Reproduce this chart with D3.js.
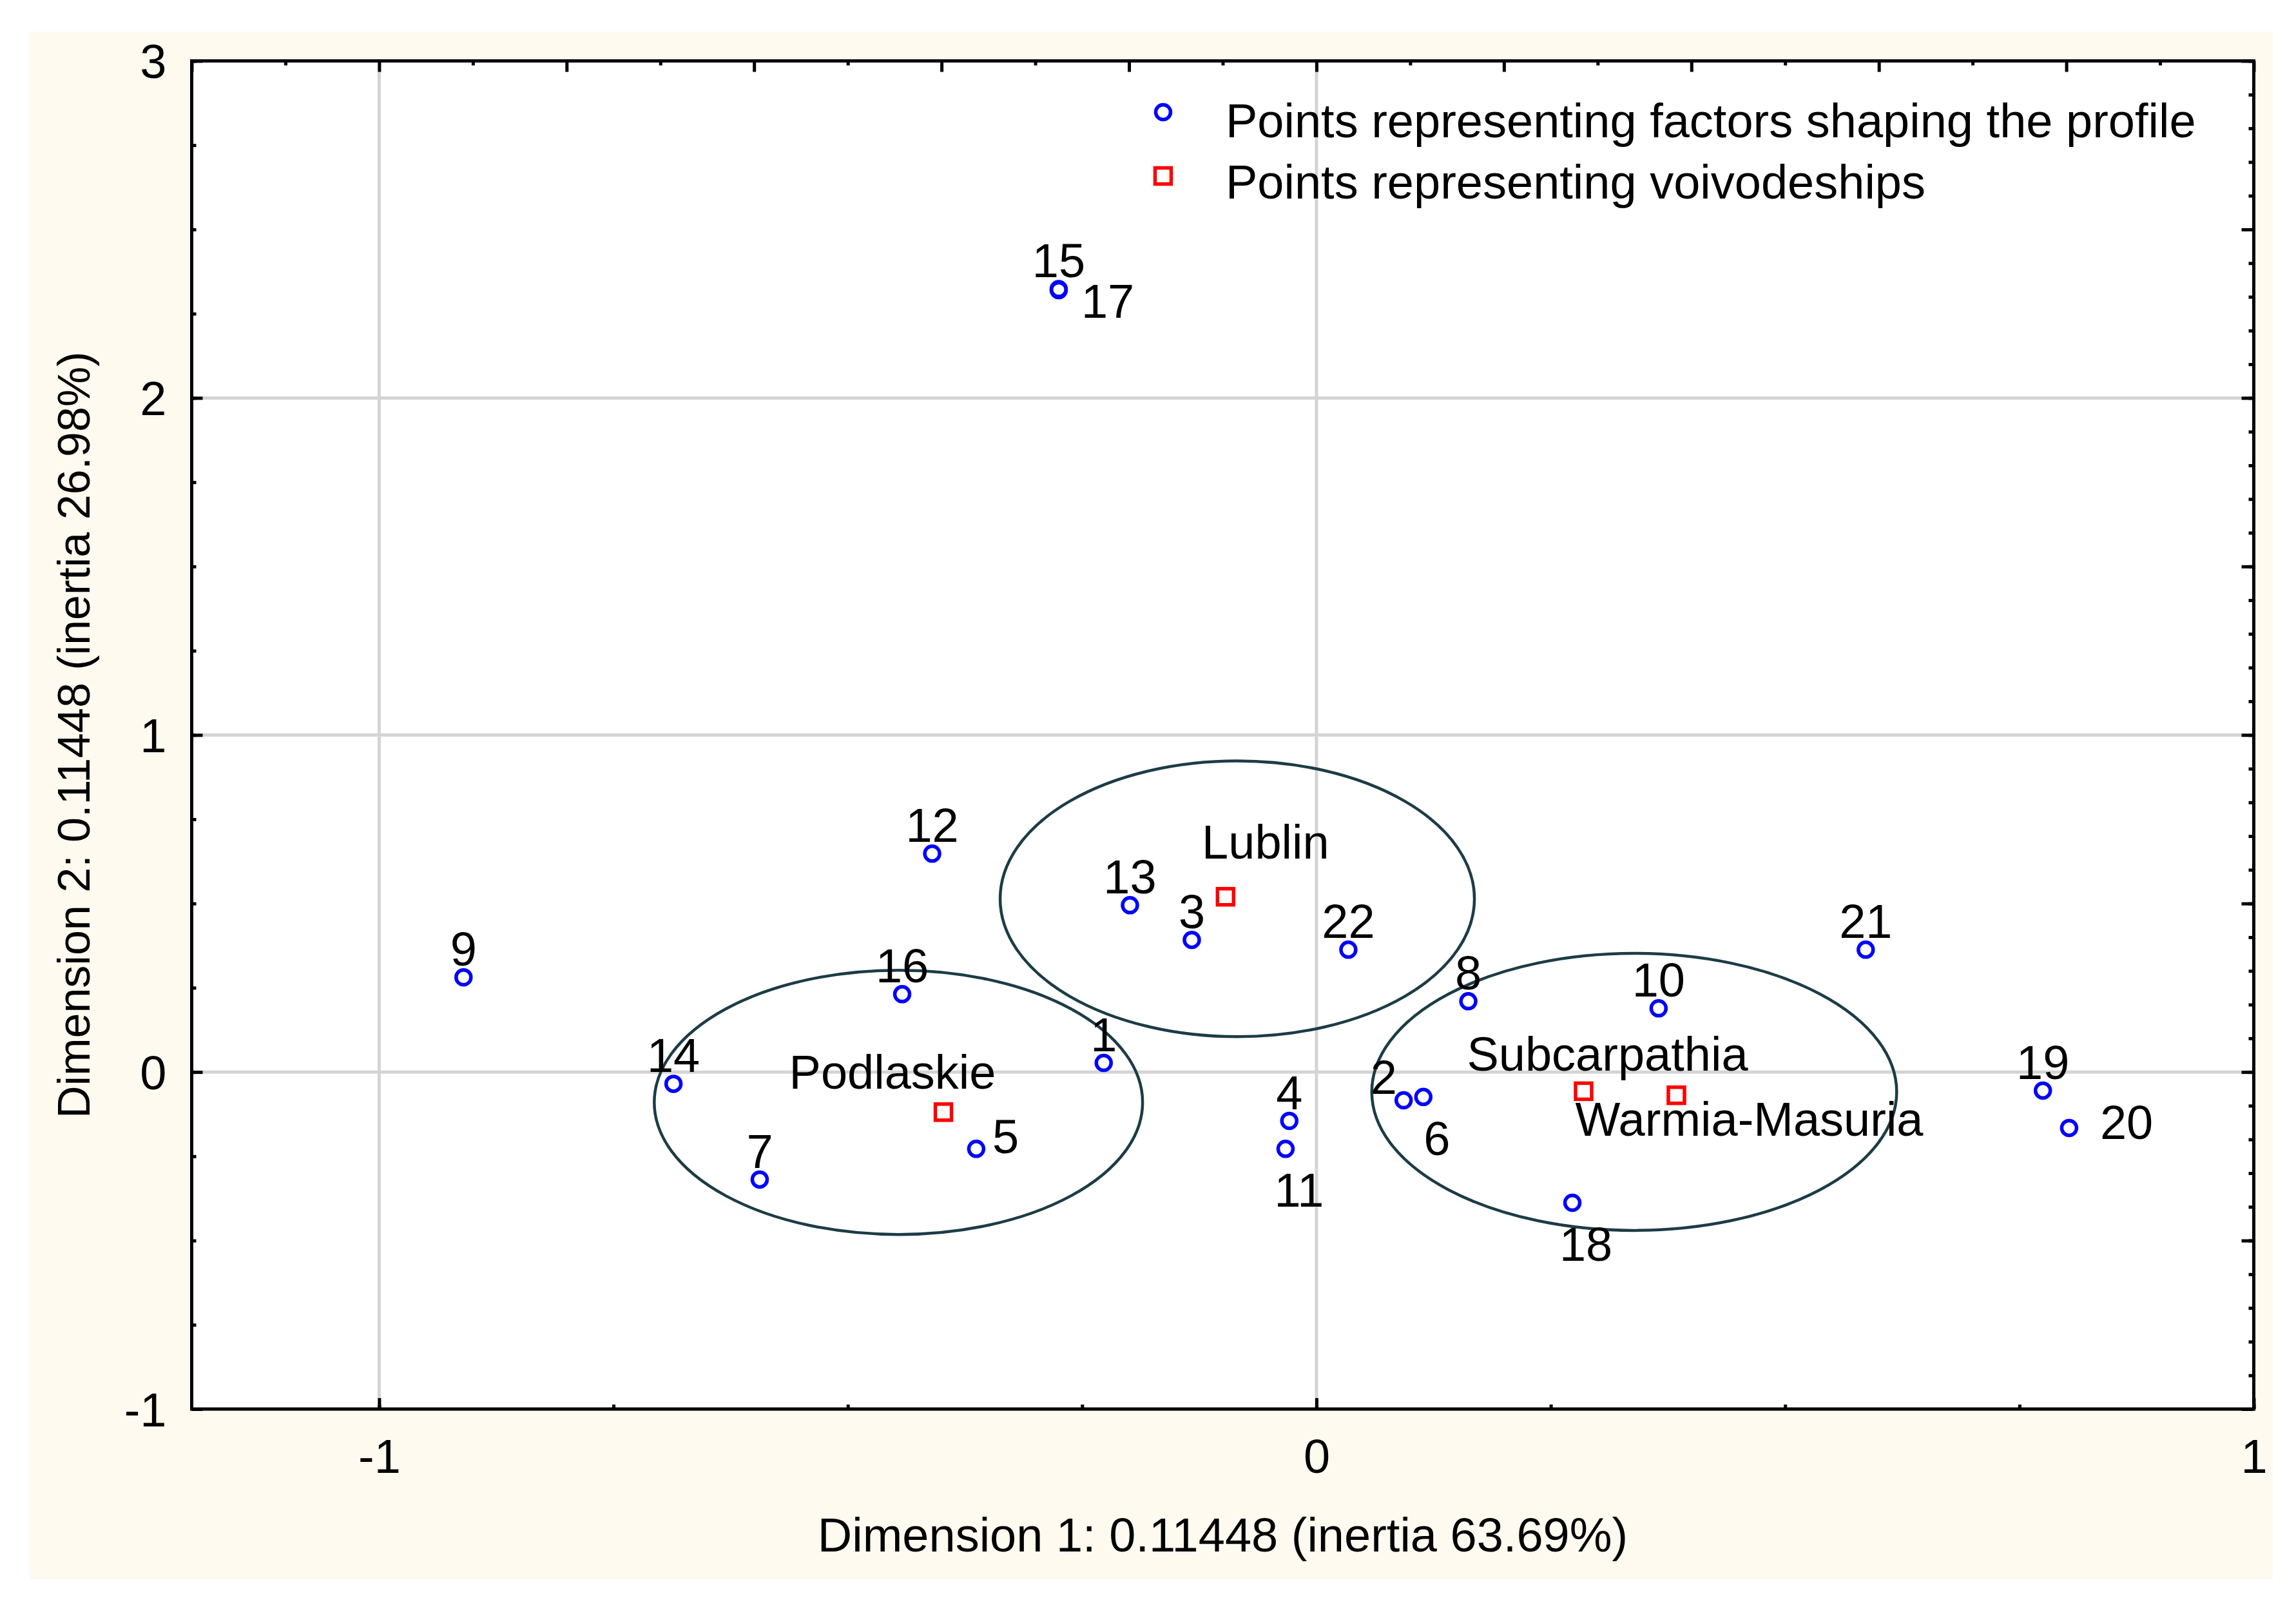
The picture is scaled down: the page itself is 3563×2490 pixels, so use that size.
<!DOCTYPE html>
<html><head><meta charset="utf-8">
<script src="https://cdn.jsdelivr.net/npm/d3@7"></script>
<style>html,body{margin:0;padding:0;background:#fff;} svg{display:block;}</style>
</head><body>
<svg id="chart" width="3563" height="2490"></svg>
<script>
// ---------------- DATA ----------------
const xDomain = [-1.2, 1];
const yDomain = [-1, 3];
const xTickLabels = [-1, 0, 1];
const yTickLabels = [-1, 0, 1, 2, 3];
const xTitle = "Dimension 1: 0.11448 (inertia 63.69%)";
const yTitle = "Dimension 2: 0.11448 (inertia 26.98%)";
const legendLabels = ["Points representing factors shaping the profile", "Points representing voivodeships"];

// factor points (blue circles)
const factorIds  = ["1","2","3","4","5","6","7","8","9","10","11","12","13","14","15","16","17","18","19","20","21","22"];
const factorDim1 = [-0.227, 0.093, -0.133, -0.029, -0.363, 0.114, -0.594, 0.162, -0.910, 0.365, -0.033, -0.410, -0.199, -0.686, -0.275, -0.442, -0.275, 0.273, 0.775, 0.803, 0.586, 0.034];
const factorDim2 = [0.027, -0.084, 0.392, -0.145, -0.228, -0.074, -0.319, 0.210, 0.281, 0.189, -0.228, 0.648, 0.495, -0.035, 2.323, 0.231, 2.320, -0.388, -0.055, -0.166, 0.363, 0.363];
const factorLabelSide = ["N","NW","N","N","E","S","N","N","N","N","S","N","N","N","N","N","SE","S","N","Efar","N","N"];

// voivodeship points (red squares)
const voivNames = ["Lublin", "Podlaskie", "Subcarpathia", "Warmia-Masuria"];
const voivDim1  = [-0.097, -0.398, 0.285, 0.384];
const voivDim2  = [0.520, -0.119, -0.057, -0.069];
const voivLabelSide = ["upRight", "upLeft", "up", "downRight"];

// cluster ellipses (data units)
const clusterNames = ["Lublin", "Podlaskie", "Subcarpathia / Warmia-Masuria"];
const clusterCx = [-0.0845, -0.446, 0.339];
const clusterCy = [0.514, -0.090, -0.059];
const clusterRx = [0.253, 0.2605, 0.280];
const clusterRy = [0.409, 0.392, 0.411];

// ---------------- LAYOUT / STYLE ----------------
const W = 3563, H = 2490;
const font = "'Liberation Sans', Arial, Helvetica, sans-serif";
const fs = 74;
const plot = {left: 297.5, right: 3497.5, top: 94.5, bottom: 2186};
const blue = "#0000ff", red = "#ff0000", grid = "#d4d4d4", ellipseColor = "#1c3c46";

const factorOffsets = {
  N:   {dx: 0,   dy: -18, anchor: "middle"},
  NW:  {dx: -31, dy: -10, anchor: "middle"},
  S:   {dx: 21,  dy: 90,  anchor: "middle"},
  E:   {dx: 25,  dy: 7,   anchor: "start"},
  Efar:{dx: 48,  dy: 17,  anchor: "start"},
  SE:  {dx: 35,  dy: 43,  anchor: "start"}
};
const voivOffsets = {
  upRight:   {dx: 62,  dy: -59},
  upLeft:    {dx: -79, dy: -36},
  up:        {dx: 37,  dy: -32},
  downRight: {dx: 113, dy: 63}
};

const svg = d3.select("#chart");
const x = d3.scaleLinear().domain(xDomain).range([plot.left, plot.right]);
const y = d3.scaleLinear().domain(yDomain).range([plot.bottom, plot.top]);

svg.append("rect").attr("width", W).attr("height", H).attr("fill", "#ffffff");
svg.append("rect").attr("x", 46).attr("y", 49).attr("width", 3481).attr("height", 2401).attr("fill", "#fffaf0");
svg.append("rect").attr("x", plot.left).attr("y", plot.top)
  .attr("width", plot.right - plot.left).attr("height", plot.bottom - plot.top).attr("fill", "#ffffff");

// gridlines
const gGrid = svg.append("g");
gGrid.selectAll("line.v").data(xTickLabels).join("line")
  .attr("x1", d => x(d)).attr("x2", d => x(d)).attr("y1", plot.top).attr("y2", plot.bottom)
  .attr("stroke", grid).attr("stroke-width", 5);
gGrid.selectAll("line.h").data(yTickLabels).join("line")
  .attr("x1", plot.left).attr("x2", plot.right).attr("y1", d => y(d)).attr("y2", d => y(d))
  .attr("stroke", grid).attr("stroke-width", 5);

// axes
function styleAxis(g) {
  g.select(".domain").remove();
  g.selectAll(".tick line").attr("stroke", "#000").attr("stroke-width", 5);
  g.attr("font-family", font).attr("font-size", fs);
  g.selectAll("text").attr("fill", "#000");
}
const fmt = d => String(d);
// bottom
svg.append("g").attr("transform", `translate(0,${plot.bottom})`)
  .call(d3.axisBottom(x).tickValues(d3.range(-1, 1.001, 0.25)).tickSize(-7).tickFormat("")).call(styleAxis);
svg.append("g").attr("transform", `translate(0,${plot.bottom})`)
  .call(d3.axisBottom(x).tickValues(xTickLabels).tickSize(-17).tickFormat(fmt)).call(styleAxis)
  .call(g => g.selectAll("text").attr("y", 99).attr("dy", null));
// left
svg.append("g").attr("transform", `translate(${plot.left},0)`)
  .call(d3.axisLeft(y).tickValues(d3.range(-1, 3.001, 0.25)).tickSize(-7).tickFormat("")).call(styleAxis);
svg.append("g").attr("transform", `translate(${plot.left},0)`)
  .call(d3.axisLeft(y).tickValues(yTickLabels).tickSize(-17).tickFormat(fmt)).call(styleAxis)
  .call(g => g.selectAll("text").attr("x", -39).attr("dy", null).attr("y", 26));
// top
svg.append("g").attr("transform", `translate(0,${plot.top})`)
  .call(d3.axisTop(x).tickValues(d3.range(-1.1, 1, 0.2)).tickSize(-7).tickFormat("")).call(styleAxis);
svg.append("g").attr("transform", `translate(0,${plot.top})`)
  .call(d3.axisTop(x).tickValues(d3.range(-1.2, 1.001, 0.2)).tickSize(-17).tickFormat("")).call(styleAxis);
// right
svg.append("g").attr("transform", `translate(${plot.right},0)`)
  .call(d3.axisRight(y).tickValues(d3.range(-1, 3.001, 0.1)).tickSize(-8).tickFormat("")).call(styleAxis);
svg.append("g").attr("transform", `translate(${plot.right},0)`)
  .call(d3.axisRight(y).tickValues(d3.range(-1, 3.001, 0.5)).tickSize(-19).tickFormat("")).call(styleAxis);

// frame
svg.append("rect").attr("x", plot.left).attr("y", plot.top)
  .attr("width", plot.right - plot.left).attr("height", plot.bottom - plot.top)
  .attr("fill", "none").attr("stroke", "#000").attr("stroke-width", 5);

// ellipses
svg.append("g").selectAll("ellipse").data(clusterNames).join("ellipse")
  .attr("cx", (d, i) => x(clusterCx[i])).attr("cy", (d, i) => y(clusterCy[i]))
  .attr("rx", (d, i) => x(clusterCx[i] + clusterRx[i]) - x(clusterCx[i]))
  .attr("ry", (d, i) => y(clusterCy[i]) - y(clusterCy[i] + clusterRy[i]))
  .attr("fill", "none").attr("stroke", ellipseColor).attr("stroke-width", 4.5);

// factor points
const factors = factorIds.map((id, i) => ({id, d1: factorDim1[i], d2: factorDim2[i], side: factorLabelSide[i]}));
svg.append("g").selectAll("circle").data(factors).join("circle")
  .attr("cx", d => x(d.d1)).attr("cy", d => y(d.d2)).attr("r", 11.5)
  .attr("fill", "none").attr("stroke", blue).attr("stroke-width", 5.5);

// voivodeship points
const voivs = voivNames.map((n, i) => ({name: n, d1: voivDim1[i], d2: voivDim2[i], side: voivLabelSide[i]}));
svg.append("g").selectAll("rect").data(voivs).join("rect")
  .attr("x", d => x(d.d1) - 12.5).attr("y", d => y(d.d2) - 12.5).attr("width", 25).attr("height", 25)
  .attr("fill", "none").attr("stroke", red).attr("stroke-width", 5.5);

// labels
const gLab = svg.append("g").attr("font-family", font).attr("font-size", fs).attr("fill", "#000");
gLab.selectAll("text.f").data(factors).join("text")
  .attr("x", d => x(d.d1) + factorOffsets[d.side].dx)
  .attr("y", d => y(d.d2) + factorOffsets[d.side].dy)
  .attr("text-anchor", d => factorOffsets[d.side].anchor)
  .text(d => d.id);
gLab.selectAll("text.v").data(voivs).join("text")
  .attr("x", d => x(d.d1) + voivOffsets[d.side].dx)
  .attr("y", d => y(d.d2) + voivOffsets[d.side].dy)
  .attr("text-anchor", "middle")
  .text(d => d.name);

// axis titles
svg.append("text").attr("x", (plot.left + plot.right) / 2).attr("y", 2407)
  .attr("text-anchor", "middle").attr("font-family", font).attr("font-size", fs).text(xTitle);
svg.append("text").attr("transform", `translate(139,${(plot.top + plot.bottom) / 2}) rotate(-90)`)
  .attr("text-anchor", "middle").attr("font-family", font).attr("font-size", 70).text(yTitle);

// legend
const leg = svg.append("g");
leg.append("circle").attr("cx", 1805).attr("cy", 174).attr("r", 11.5)
  .attr("fill", "none").attr("stroke", blue).attr("stroke-width", 5.5);
leg.append("rect").attr("x", 1805 - 12.5).attr("y", 273 - 12.5).attr("width", 25).attr("height", 25)
  .attr("fill", "none").attr("stroke", red).attr("stroke-width", 5.5);
leg.selectAll("text").data(legendLabels).join("text")
  .attr("x", 1902).attr("y", (d, i) => 213 + i * 95)
  .attr("font-family", font).attr("font-size", fs).text(d => d);
</script>
</body></html>
